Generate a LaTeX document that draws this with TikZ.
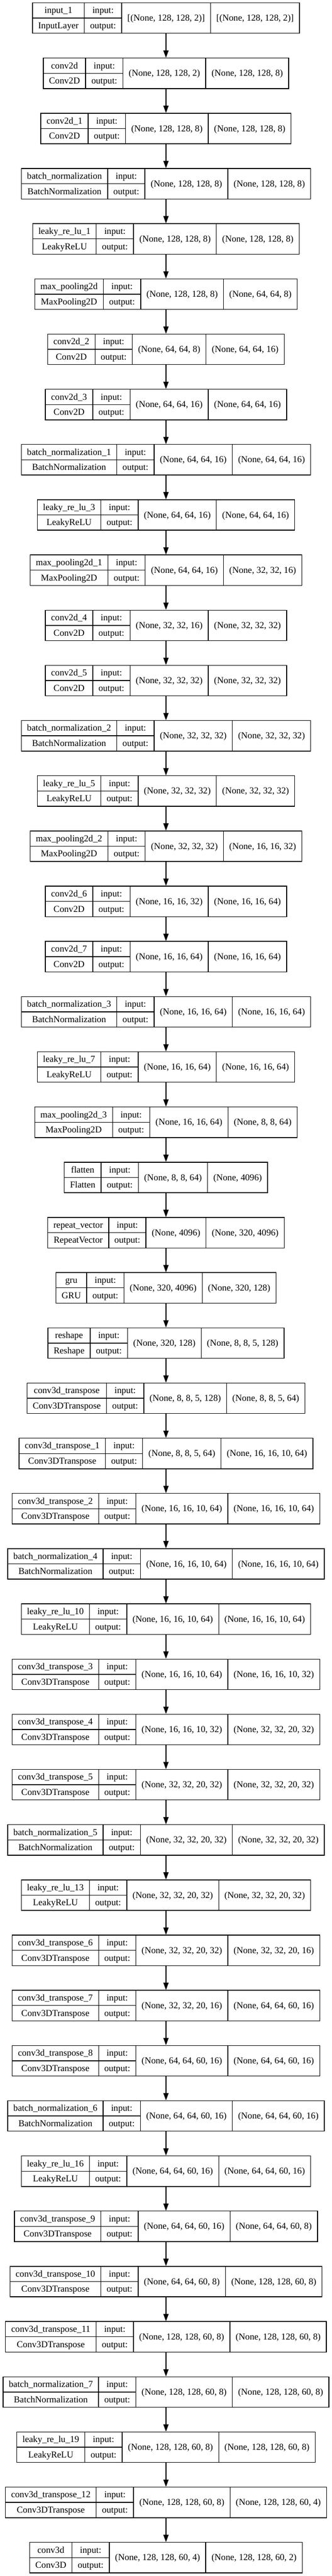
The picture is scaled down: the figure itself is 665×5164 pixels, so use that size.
\documentclass[tikz,border=0pt]{standalone}
\usepackage{fontspec}
\setmainfont{Liberation Serif}
\usetikzlibrary{arrows.meta}
\newlength\kwA \newlength\kwB \newlength\kwC \newlength\kwD \newlength\kwIO \newlength\ktot
\newcommand\kfont{\fontsize{18.25pt}{22pt}\selectfont}
% measure a text in the real font (pgf switches fonts off inside pictures)
\newcommand\kmeasure[2]{\pgfinterruptpicture\settowidth#1{\kfont #2}\global#1=#1\relax\endpgfinterruptpicture}
\tikzset{
  layerbox/.style={draw=black, line width=1.45pt, rectangle, minimum height=61.2pt, inner sep=0pt},
  cellline/.style={line width=1.45pt},
  ktxt/.style={font=\kfont, inner sep=0pt, text height=11.5pt, text depth=0pt},
  flowarrow/.style={line width=1.45pt, -{Triangle[length=14.5pt,width=10.5pt]}},
}
% #1 index, #2 name, #3 class, #4 input shape, #5 output shape
\newcommand\klayer[5]{%
  \kmeasure\kwA{#2}\kmeasure\kwB{#3}%
  \ifdim\kwB>\kwA \kwA=\kwB\fi
  \addtolength\kwA{23pt}%
  \kmeasure\kwC{#4}\addtolength\kwC{23pt}%
  \kmeasure\kwD{#5}\addtolength\kwD{23pt}%
  \ktot=\kwA \advance\ktot\kwIO \advance\ktot\kwC \advance\ktot\kwD
  \pgfmathsetmacro\ktop{5.7+#1*110.67}%
  \pgfmathsetmacro\kcy{-(\ktop+30.6)}%
  \pgfmathsetmacro\kyt{-\ktop}%
  \pgfmathsetmacro\kyb{-(\ktop+61.2)}%
  \pgfmathsetmacro\kyu{\kcy+15.3}%
  \pgfmathsetmacro\kyl{\kcy-15.3}%
  \pgfmathsetmacro\kL{332.5-\ktot/2}%
  \pgfmathsetmacro\kxa{\kL+\kwA}%
  \pgfmathsetmacro\kxb{\kxa+\kwIO}%
  \pgfmathsetmacro\kxc{\kxb+\kwC}%
  \pgfmathsetmacro\kR{\kL+\ktot}%
  \pgfmathsetmacro\kmA{(\kL+\kxa)/2}%
  \pgfmathsetmacro\kmB{(\kxa+\kxb)/2}%
  \pgfmathsetmacro\kmC{(\kxb+\kxc)/2}%
  \pgfmathsetmacro\kmD{(\kxc+\kR)/2}%
  \node[layerbox, minimum width=\the\ktot] (L#1) at (332.5pt,\kcy pt) {};
  \draw[cellline] (\kxa pt,\kyt pt) -- (\kxa pt,\kyb pt);
  \draw[cellline] (\kxb pt,\kyt pt) -- (\kxb pt,\kyb pt);
  \draw[cellline] (\kxc pt,\kyt pt) -- (\kxc pt,\kyb pt);
  \draw[cellline] (\kL pt,\kcy pt) -- (\kxb pt,\kcy pt);
  \node[ktxt] (L#1name) at (\kmA pt,\kyu pt) {#2};
  \node[ktxt] (L#1class) at (\kmA pt,\kyl pt) {#3};
  \node[ktxt] (L#1inlab) at (\kmB pt,\kyu pt) {input:};
  \node[ktxt] (L#1outlab) at (\kmB pt,\kyl pt) {output:};
  \node[ktxt] (L#1in) at (\kmC pt,\kcy pt) {#4};
  \node[ktxt] (L#1out) at (\kmD pt,\kcy pt) {#5};
}
\begin{document}
\begin{tikzpicture}
\fill[white] (0pt,0pt) rectangle (665pt,-5164pt);
\useasboundingbox (0pt,0pt) rectangle (665pt,-5164pt);
\kmeasure\kwIO{output:}\addtolength\kwIO{23pt}%
\klayer{0}{input\_1}{InputLayer}{[(None, 128, 128, 2)]}{[(None, 128, 128, 2)]}
\klayer{1}{conv2d}{Conv2D}{(None, 128, 128, 2)}{(None, 128, 128, 8)}
\klayer{2}{conv2d\_1}{Conv2D}{(None, 128, 128, 8)}{(None, 128, 128, 8)}
\klayer{3}{batch\_normalization}{BatchNormalization}{(None, 128, 128, 8)}{(None, 128, 128, 8)}
\klayer{4}{leaky\_re\_lu\_1}{LeakyReLU}{(None, 128, 128, 8)}{(None, 128, 128, 8)}
\klayer{5}{max\_pooling2d}{MaxPooling2D}{(None, 128, 128, 8)}{(None, 64, 64, 8)}
\klayer{6}{conv2d\_2}{Conv2D}{(None, 64, 64, 8)}{(None, 64, 64, 16)}
\klayer{7}{conv2d\_3}{Conv2D}{(None, 64, 64, 16)}{(None, 64, 64, 16)}
\klayer{8}{batch\_normalization\_1}{BatchNormalization}{(None, 64, 64, 16)}{(None, 64, 64, 16)}
\klayer{9}{leaky\_re\_lu\_3}{LeakyReLU}{(None, 64, 64, 16)}{(None, 64, 64, 16)}
\klayer{10}{max\_pooling2d\_1}{MaxPooling2D}{(None, 64, 64, 16)}{(None, 32, 32, 16)}
\klayer{11}{conv2d\_4}{Conv2D}{(None, 32, 32, 16)}{(None, 32, 32, 32)}
\klayer{12}{conv2d\_5}{Conv2D}{(None, 32, 32, 32)}{(None, 32, 32, 32)}
\klayer{13}{batch\_normalization\_2}{BatchNormalization}{(None, 32, 32, 32)}{(None, 32, 32, 32)}
\klayer{14}{leaky\_re\_lu\_5}{LeakyReLU}{(None, 32, 32, 32)}{(None, 32, 32, 32)}
\klayer{15}{max\_pooling2d\_2}{MaxPooling2D}{(None, 32, 32, 32)}{(None, 16, 16, 32)}
\klayer{16}{conv2d\_6}{Conv2D}{(None, 16, 16, 32)}{(None, 16, 16, 64)}
\klayer{17}{conv2d\_7}{Conv2D}{(None, 16, 16, 64)}{(None, 16, 16, 64)}
\klayer{18}{batch\_normalization\_3}{BatchNormalization}{(None, 16, 16, 64)}{(None, 16, 16, 64)}
\klayer{19}{leaky\_re\_lu\_7}{LeakyReLU}{(None, 16, 16, 64)}{(None, 16, 16, 64)}
\klayer{20}{max\_pooling2d\_3}{MaxPooling2D}{(None, 16, 16, 64)}{(None, 8, 8, 64)}
\klayer{21}{flatten}{Flatten}{(None, 8, 8, 64)}{(None, 4096)}
\klayer{22}{repeat\_vector}{RepeatVector}{(None, 4096)}{(None, 320, 4096)}
\klayer{23}{gru}{GRU}{(None, 320, 4096)}{(None, 320, 128)}
\klayer{24}{reshape}{Reshape}{(None, 320, 128)}{(None, 8, 8, 5, 128)}
\klayer{25}{conv3d\_transpose}{Conv3DTranspose}{(None, 8, 8, 5, 128)}{(None, 8, 8, 5, 64)}
\klayer{26}{conv3d\_transpose\_1}{Conv3DTranspose}{(None, 8, 8, 5, 64)}{(None, 16, 16, 10, 64)}
\klayer{27}{conv3d\_transpose\_2}{Conv3DTranspose}{(None, 16, 16, 10, 64)}{(None, 16, 16, 10, 64)}
\klayer{28}{batch\_normalization\_4}{BatchNormalization}{(None, 16, 16, 10, 64)}{(None, 16, 16, 10, 64)}
\klayer{29}{leaky\_re\_lu\_10}{LeakyReLU}{(None, 16, 16, 10, 64)}{(None, 16, 16, 10, 64)}
\klayer{30}{conv3d\_transpose\_3}{Conv3DTranspose}{(None, 16, 16, 10, 64)}{(None, 16, 16, 10, 32)}
\klayer{31}{conv3d\_transpose\_4}{Conv3DTranspose}{(None, 16, 16, 10, 32)}{(None, 32, 32, 20, 32)}
\klayer{32}{conv3d\_transpose\_5}{Conv3DTranspose}{(None, 32, 32, 20, 32)}{(None, 32, 32, 20, 32)}
\klayer{33}{batch\_normalization\_5}{BatchNormalization}{(None, 32, 32, 20, 32)}{(None, 32, 32, 20, 32)}
\klayer{34}{leaky\_re\_lu\_13}{LeakyReLU}{(None, 32, 32, 20, 32)}{(None, 32, 32, 20, 32)}
\klayer{35}{conv3d\_transpose\_6}{Conv3DTranspose}{(None, 32, 32, 20, 32)}{(None, 32, 32, 20, 16)}
\klayer{36}{conv3d\_transpose\_7}{Conv3DTranspose}{(None, 32, 32, 20, 16)}{(None, 64, 64, 60, 16)}
\klayer{37}{conv3d\_transpose\_8}{Conv3DTranspose}{(None, 64, 64, 60, 16)}{(None, 64, 64, 60, 16)}
\klayer{38}{batch\_normalization\_6}{BatchNormalization}{(None, 64, 64, 60, 16)}{(None, 64, 64, 60, 16)}
\klayer{39}{leaky\_re\_lu\_16}{LeakyReLU}{(None, 64, 64, 60, 16)}{(None, 64, 64, 60, 16)}
\klayer{40}{conv3d\_transpose\_9}{Conv3DTranspose}{(None, 64, 64, 60, 16)}{(None, 64, 64, 60, 8)}
\klayer{41}{conv3d\_transpose\_10}{Conv3DTranspose}{(None, 64, 64, 60, 8)}{(None, 128, 128, 60, 8)}
\klayer{42}{conv3d\_transpose\_11}{Conv3DTranspose}{(None, 128, 128, 60, 8)}{(None, 128, 128, 60, 8)}
\klayer{43}{batch\_normalization\_7}{BatchNormalization}{(None, 128, 128, 60, 8)}{(None, 128, 128, 60, 8)}
\klayer{44}{leaky\_re\_lu\_19}{LeakyReLU}{(None, 128, 128, 60, 8)}{(None, 128, 128, 60, 8)}
\klayer{45}{conv3d\_transpose\_12}{Conv3DTranspose}{(None, 128, 128, 60, 8)}{(None, 128, 128, 60, 4)}
\klayer{46}{conv3d}{Conv3D}{(None, 128, 128, 60, 4)}{(None, 128, 128, 60, 2)}
\foreach \i in {0,...,45}{%
  \pgfmathtruncatemacro\j{\i+1}%
  \draw[flowarrow] (L\i.south) -- (L\j.north);
}
\end{tikzpicture}
\end{document}
